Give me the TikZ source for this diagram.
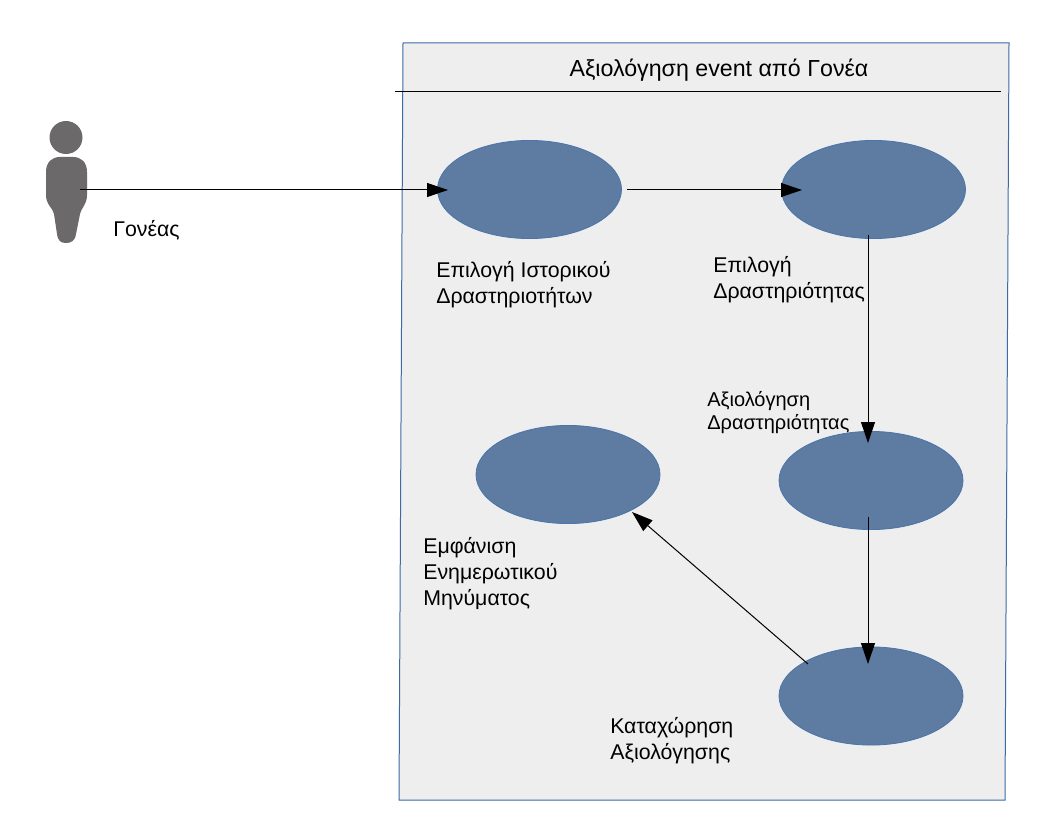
\documentclass[tikz,border=0pt]{standalone}
\usepackage{fontspec}
\setmainfont{Liberation Sans}
\usetikzlibrary{shapes.geometric,arrows.meta,positioning}
\definecolor{ucfill}{HTML}{5E7CA1}
\definecolor{ucline}{HTML}{4A74AB}
\definecolor{boxfill}{HTML}{EEEEEE}
\definecolor{boxline}{HTML}{3C6AA6}
\definecolor{actorgray}{HTML}{6B6969}
\tikzset{
  usecase/.style={ellipse,draw=ucline,fill=ucfill,line width=0.6pt,inner sep=0pt,minimum width=138pt,minimum height=73.6pt},
  lbl/.style={anchor=west,align=left,inner sep=0pt,font=\fontsize{16}{19.5}\selectfont},
  flow/.style={line width=0.75pt,-{Triangle[length=15.75pt,width=10.5pt]}}
}
\begin{document}
\begin{tikzpicture}[x=0.75pt,y=-0.75pt]
\useasboundingbox (0,0) rectangle (1056,816);
\fill[white] (0,0) rectangle (1056,816);
% system box
\draw[fill=boxfill,draw=boxline,line width=0.75pt] (403,43) -- (1009,43) -- (1005,800) -- (399,800) -- cycle;
\coordinate (hl) at (395,91.5);
\coordinate (hr) at (1001,91.5);
\draw[line width=0.75pt] (hl) -- (hr);
\node[inner sep=0pt,font=\fontsize{17.4}{20}\selectfont] (title) at (719,70) {Αξιολόγηση event από Γονέα};
% actor
\fill[actorgray] (66,137.5) circle (16.5);
\fill[actorgray] (46,172) .. controls (46,162) and (52,157) .. (60,157) -- (73,157)
  .. controls (81,157) and (87,162) .. (87,172) -- (87,195)
  .. controls (87,205) and (81,208) .. (80,214) -- (76,234)
  .. controls (75,241) and (71,243) .. (66,243)
  .. controls (61,243) and (58,241) .. (57,234) -- (54,214)
  .. controls (53,208) and (46,205) .. (46,195) -- cycle;
\coordinate (actor) at (80,190);
\node[lbl] (lactor) at (113,230) {Γονέας};
% use cases
\node[usecase] (u1) at (529.5,189.5) {};
\node[usecase] (u2) at (873.5,189.5) {};
\node[usecase] (u3) at (871,480.5) {};
\node[usecase] (u4) at (568,474.5) {};
\node[usecase] (u5) at (871,696) {};
% labels
\node[lbl] (l1) at (436,285) {Επιλογή Ιστορικού\\Δραστηριοτήτων};
\node[lbl] (l2) at (713,279.5) {Επιλογή\\Δραστηριότητας};
\node[lbl,font=\fontsize{15}{17.4}\selectfont] (l3) at (707,412.5) {Αξιολόγηση\\Δραστηριότητας};
\node[lbl] (l4) at (423,574) {Εμφάνιση\\Ενημερωτικού\\Μηνύματος};
\node[lbl] (l5) at (610,741) {Καταχώρηση\\Αξιολόγησης};
% free ends of the connectors, which run into the ellipses
\coordinate (a1e) at (448,190);
\coordinate (a2s) at (627,190);
\coordinate (a2e) at (802,190);
\coordinate (a3s) at (868,235);
\coordinate (a3e) at (868,443);
\coordinate (a4s) at (868,517);
\coordinate (a4e) at (868,664);
\coordinate (a5s) at (808,664);
\coordinate (a5e) at (632,512);
\draw[flow] (actor) -- (a1e);
\draw[flow] (a2s) -- (a2e);
\draw[flow] (a3s) -- (a3e);
\draw[flow] (a4s) -- (a4e);
\draw[flow] (a5s) -- (a5e);
\end{tikzpicture}
\end{document}
